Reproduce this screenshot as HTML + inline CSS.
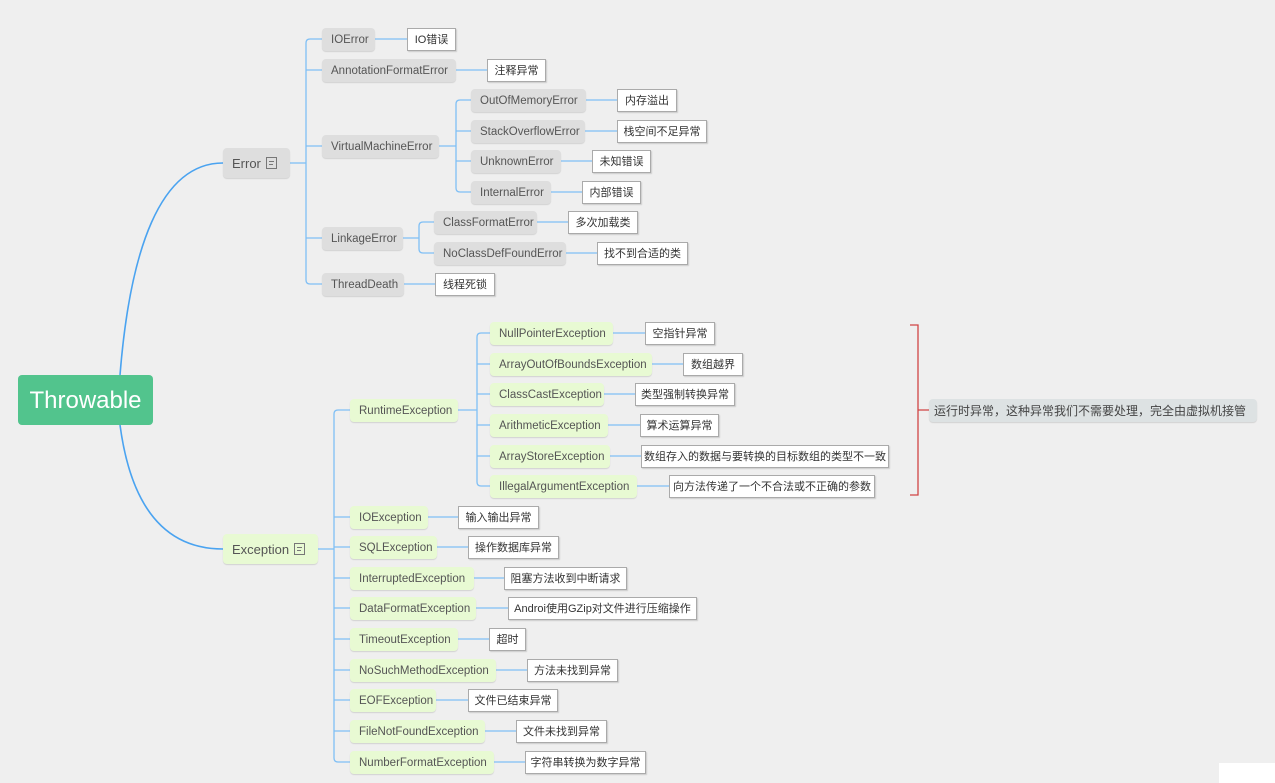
<!DOCTYPE html>
<html><head><meta charset="utf-8"><style>
body{margin:0;width:1275px;height:783px;background:#efefef;overflow:hidden;position:relative;font-family:"Liberation Sans","Noto Sans CJK SC",sans-serif;}
.n{position:absolute;height:23px;line-height:25px;font-size:11.5px;color:#555;border-radius:4px;padding-left:9px;box-sizing:border-box;white-space:nowrap;box-shadow:0 1px 1px rgba(0,0,0,0.12);}
.g{background:#dedede;}
.e{background:#e8fad3;}
.b{position:absolute;height:23px;line-height:23px;font-size:11px;color:#333;background:#fff;border:1px solid #aaa;box-sizing:border-box;text-align:center;white-space:nowrap;box-shadow:1px 1px 1px rgba(0,0,0,0.15);}
svg{position:absolute;left:0;top:0;}
.ic{display:inline-block;width:9px;height:10px;border:1px solid #777;vertical-align:-1px;margin-left:5px;background:linear-gradient(#777,#777) 2px 3px/5px 1px no-repeat,linear-gradient(#777,#777) 2px 6px/4px 1px no-repeat;}
</style></head><body>
<svg width="1275" height="783" fill="none">
<g stroke="#4aa3f0" stroke-width="1.6">
<path d="M120 375 C130 250 160 163 223 163"/>
<path d="M120 425 C130 500 160 549 223 549"/>
</g>
<g stroke="#7fbff5" stroke-width="1.3">
<path d="M290 163 H306"/>
<path d="M322 39 H310 Q306 39 306 43 V280 Q306 284 310 284 H322"/>
<path d="M306 70 H322 M306 146 H322 M306 238 H322"/>
<path d="M375 39 H407 M456 70 H487 M439 146 H456"/>
<path d="M471 100 H460 Q456 100 456 104 V188 Q456 192 460 192 H471 M456 131 H471 M456 161 H471"/>
<path d="M586 100 H617 M585 131 H617 M561 161 H592 M551 192 H582"/>
<path d="M403 238 H419 M434 222 H423 Q419 222 419 226 V249 Q419 253 423 253 H434"/>
<path d="M537 222 H568 M566 253 H597 M404 284 H435"/>
<path d="M318 549 H334"/>
<path d="M350 410 H338 Q334 410 334 414 V758 Q334 762 338 762 H350"/>
<path d="M334 517 H350 M334 547 H350 M334 578 H350 M334 608 H350 M334 639 H350 M334 670 H350 M334 700 H350 M334 731 H350"/>
<path d="M458 410 H477 M490 333 H481 Q477 333 477 337 V482 Q477 486 481 486 H490 M477 364 H490 M477 394 H490 M477 425 H490 M477 456 H490"/>
<path d="M613 333 H645 M652 364 H683 M604 394 H635 M608 425 H640 M610 456 H641 M637 486 H669"/>
<path d="M428 517 H458 M437 547 H468 M474 578 H504 M476 608 H508 M458 639 H489 M496 670 H527 M436 700 H468 M485 731 H516 M494 762 H525"/>
</g>
<path d="M910 325 H918 V495 H910 M918 410 H929" stroke="#d04545" stroke-width="1.3"/>
</svg>
<div style="position:absolute;left:18px;top:375px;width:135px;height:50px;background:#52c48d;border-radius:4px;color:#fff;font-size:24px;line-height:52px;text-align:center;">Throwable</div>
<div class="n g" style="left:223px;top:148px;width:67px;height:30px;line-height:31px;font-size:13px;">Error<span class="ic"></span></div>
<div class="n e" style="left:223px;top:534px;width:95px;height:30px;line-height:31px;font-size:13px;">Exception<span class="ic"></span></div>

<div class="n g" style="left:322px;top:28px;width:53px">IOError</div><div class="b" style="left:407px;top:28px;width:49px">IO错误</div>
<div class="n g" style="left:322px;top:59px;width:134px">AnnotationFormatError</div><div class="b" style="left:487px;top:59px;width:59px">注释异常</div>
<div class="n g" style="left:322px;top:135px;width:117px">VirtualMachineError</div>
<div class="n g" style="left:471px;top:89px;width:115px">OutOfMemoryError</div><div class="b" style="left:617px;top:89px;width:60px">内存溢出</div>
<div class="n g" style="left:471px;top:120px;width:114px">StackOverflowError</div><div class="b" style="left:617px;top:120px;width:90px">栈空间不足异常</div>
<div class="n g" style="left:471px;top:150px;width:90px">UnknownError</div><div class="b" style="left:592px;top:150px;width:59px">未知错误</div>
<div class="n g" style="left:471px;top:181px;width:80px">InternalError</div><div class="b" style="left:582px;top:181px;width:59px">内部错误</div>
<div class="n g" style="left:322px;top:227px;width:81px">LinkageError</div>
<div class="n g" style="left:434px;top:211px;width:103px">ClassFormatError</div><div class="b" style="left:568px;top:211px;width:70px">多次加载类</div>
<div class="n g" style="left:434px;top:242px;width:132px">NoClassDefFoundError</div><div class="b" style="left:597px;top:242px;width:91px">找不到合适的类</div>
<div class="n g" style="left:322px;top:273px;width:82px">ThreadDeath</div><div class="b" style="left:435px;top:273px;width:60px">线程死锁</div>

<div class="n e" style="left:350px;top:399px;width:108px">RuntimeException</div>
<div class="n e" style="left:490px;top:322px;width:123px">NullPointerException</div><div class="b" style="left:645px;top:322px;width:70px">空指针异常</div>
<div class="n e" style="left:490px;top:353px;width:162px">ArrayOutOfBoundsException</div><div class="b" style="left:683px;top:353px;width:60px">数组越界</div>
<div class="n e" style="left:490px;top:383px;width:114px">ClassCastException</div><div class="b" style="left:635px;top:383px;width:100px">类型强制转换异常</div>
<div class="n e" style="left:490px;top:414px;width:118px">ArithmeticException</div><div class="b" style="left:640px;top:414px;width:79px">算术运算异常</div>
<div class="n e" style="left:490px;top:445px;width:120px">ArrayStoreException</div><div class="b" style="left:641px;top:445px;width:248px">数组存入的数据与要转换的目标数组的类型不一致</div>
<div class="n e" style="left:490px;top:475px;width:147px">IllegalArgumentException</div><div class="b" style="left:669px;top:475px;width:206px">向方法传递了一个不合法或不正确的参数</div>

<div class="n e" style="left:350px;top:506px;width:78px">IOException</div><div class="b" style="left:458px;top:506px;width:81px">输入输出异常</div>
<div class="n e" style="left:350px;top:536px;width:87px">SQLException</div><div class="b" style="left:468px;top:536px;width:91px">操作数据库异常</div>
<div class="n e" style="left:350px;top:567px;width:124px">InterruptedException</div><div class="b" style="left:504px;top:567px;width:123px">阻塞方法收到中断请求</div>
<div class="n e" style="left:350px;top:597px;width:126px">DataFormatException</div><div class="b" style="left:508px;top:597px;width:189px">Androi使用GZip对文件进行压缩操作</div>
<div class="n e" style="left:350px;top:628px;width:108px">TimeoutException</div><div class="b" style="left:489px;top:628px;width:37px">超时</div>
<div class="n e" style="left:350px;top:659px;width:146px">NoSuchMethodException</div><div class="b" style="left:527px;top:659px;width:91px">方法未找到异常</div>
<div class="n e" style="left:350px;top:689px;width:86px">EOFException</div><div class="b" style="left:468px;top:689px;width:90px">文件已结束异常</div>
<div class="n e" style="left:350px;top:720px;width:135px">FileNotFoundException</div><div class="b" style="left:516px;top:720px;width:91px">文件未找到异常</div>
<div class="n e" style="left:350px;top:751px;width:144px">NumberFormatException</div><div class="b" style="left:525px;top:751px;width:121px">字符串转换为数字异常</div>

<div class="n" style="left:929px;top:399px;width:328px;background:#dde2e3;font-size:12px;color:#444;padding-left:5px">运行时异常，这种异常我们不需要处理，完全由虚拟机接管</div>
<div style="position:absolute;left:1219px;top:763px;width:56px;height:20px;background:#fff;"></div>
</body></html>
